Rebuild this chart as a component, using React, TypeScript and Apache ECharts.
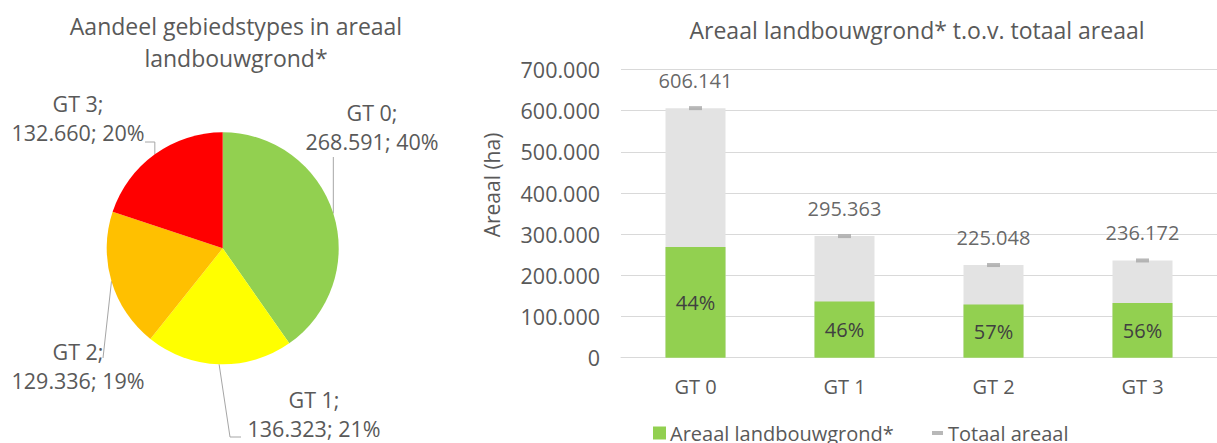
import React, { useEffect, useRef } from 'react';
import * as echarts from 'echarts';

// ---- Data ----
const pieNames = ['GT 0', 'GT 1', 'GT 2', 'GT 3'];
const pieValues = [268591, 136323, 129336, 132660];
const pieColors = ['#92D050', '#FFFF00', '#FFC000', '#FF0000'];

const barCategories = ['GT 0', 'GT 1', 'GT 2', 'GT 3'];
const landValues = [268591, 136323, 129336, 132660];
const totalValues = [606141, 295363, 225048, 236172];

const yMin = 0;
const yMax = 700000;
const yInterval = 100000;

const leftTitle = 'Aandeel gebiedstypes in areaal\nlandbouwgrond*';
const rightTitle = 'Areaal landbouwgrond* t.o.v. totaal areaal';
const yAxisTitle = 'Areaal (ha)';
const landName = 'Areaal landbouwgrond*';
const totalName = 'Totaal areaal';

// ---- Styling / layout ----
const FONT = 'Open Sans';
const TXT = '#595959';
const DARK = '#404040';
const FS = 20;

const pieLabelPos = [
  { x: 372, y: 127 },
  { x: 314, y: 414 },
  { x: 78, y: 366 },
  { x: 78, y: 118 },
];

function fmt(n: number): string {
  return Math.round(n).toString().replace(/\B(?=(\d{3})+(?!\d))/g, '.');
}

export default function App() {
  const ref = useRef<HTMLDivElement>(null);

  useEffect(() => {
    document.body.style.margin = '0';
    if (!ref.current) return;
    const chart = echarts.init(ref.current, null, { renderer: 'svg' });

    const option: any = {
      animation: false,
      backgroundColor: '#ffffff',
      textStyle: { fontFamily: FONT },
      title: [
        {
          text: leftTitle,
          left: 231,
          top: 5,
          textAlign: 'center',
          textStyle: { fontFamily: FONT, fontSize: 23, fontWeight: 'normal', color: TXT, lineHeight: 32 },
        },
        {
          text: rightTitle,
          left: 912,
          top: 9,
          textAlign: 'center',
          textStyle: { fontFamily: FONT, fontSize: 23, fontWeight: 'normal', color: TXT, lineHeight: 32 },
        },
      ],
      legend: [
        {
          data: [{ name: landName, icon: 'rect' }],
          left: 648,
          top: 416,
          itemWidth: 13,
          itemHeight: 13,
          itemGap: 10,
          textStyle: { fontFamily: FONT, fontSize: FS, color: TXT, lineHeight: 24, padding: [0, 0, 0, -1] },
          selectedMode: false,
        },
        {
          data: [{ name: totalName, icon: 'rect' }],
          left: 927,
          top: 416,
          itemWidth: 11,
          itemHeight: 4,
          textStyle: { fontFamily: FONT, fontSize: FS, color: TXT, lineHeight: 24 },
          selectedMode: false,
        },
      ],
      grid: { left: 621, top: 69.5, width: 608, height: 288.2 },
      xAxis: {
        type: 'category',
        data: barCategories,
        axisLine: { lineStyle: { color: '#d9d9d9', width: 1 } },
        axisTick: { show: false },
        axisLabel: { fontFamily: FONT, fontSize: FS, color: TXT, margin: 19 },
      },
      yAxis: {
        type: 'value',
        min: yMin,
        max: yMax,
        interval: yInterval,
        axisLine: { show: false },
        axisTick: { show: false },
        splitLine: { lineStyle: { color: '#d9d9d9', width: 1 } },
        axisLabel: { fontFamily: FONT, fontSize: 21.5, color: TXT, margin: 21, formatter: (v: number) => fmt(v) },
      },
      graphic: [
        {
          type: 'text',
          x: 492,
          y: 185,
          rotation: Math.PI / 2,
          style: { text: yAxisTitle, fontFamily: FONT, fontSize: 21, fill: TXT, align: 'center', verticalAlign: 'middle' },
        },
      ],
      series: [
        {
          type: 'pie',
          name: 'Aandeel',
          center: [222.7, 248.3],
          radius: 116,
          startAngle: 90,
          clockwise: true,
          percentPrecision: 0,
          data: pieNames.map((n, i) => ({ name: n, value: pieValues[i], itemStyle: { color: pieColors[i] } })),
          label: {
            show: true,
            position: 'outside',
            fontFamily: FONT,
            fontSize: 21.5,
            color: TXT,
            lineHeight: 29,
            align: 'center',
            width: 180,
            overflow: 'none',
            formatter: (p: any) => `${p.name};\n${fmt(p.value)}; ${p.percent}%`,
          },
          labelLine: { show: true, lineStyle: { color: '#a6a6a6', width: 1 } },
          labelLayout: (p: any) => {
            const i = p.dataIndex;
            const pos = pieLabelPos[i];
            const s = p.labelLinePoints && p.labelLinePoints[0] ? p.labelLinePoints[0] : [pos.x, pos.y];
            let pts: number[][];
            if (i === 0) pts = [s, [s[0], pos.y + 30]];
            else if (i === 1) pts = [s, [230, 437], [241, 437]];
            else if (i === 2) pts = [s, [103, 358]];
            else pts = [s, [s[0], 142], [145, 142]];
            return { x: pos.x, y: pos.y, align: 'center', verticalAlign: 'middle', labelLinePoints: pts };
          },
          emphasis: { disabled: true },
        },
        {
          type: 'bar',
          name: 'Totaal',
          data: totalValues,
          barWidth: 60,
          itemStyle: { color: '#e3e3e3' },
          emphasis: { disabled: true },
        },
        {
          type: 'bar',
          name: landName,
          data: landValues,
          barWidth: 60,
          barGap: '-100%',
          itemStyle: { color: '#92D050' },
          label: {
            show: true,
            position: 'inside',
            fontFamily: FONT,
            fontSize: FS,
            color: DARK,
            formatter: (p: any) => `${Math.round((landValues[p.dataIndex] / totalValues[p.dataIndex]) * 100)}%`,
          },
          emphasis: { disabled: true },
        },
        {
          type: 'scatter',
          name: totalName,
          data: totalValues,
          symbol: 'rect',
          symbolSize: [13, 4],
          itemStyle: { color: '#a6a6a6' },
          label: {
            show: true,
            position: 'top',
            distance: 16,
            fontFamily: FONT,
            fontSize: FS,
            color: DARK,
            formatter: (p: any) => fmt(p.value),
          },
          z: 5,
          emphasis: { disabled: true },
        },
      ],
    };

    chart.setOption(option);
    return () => chart.dispose();
  }, []);

  return <div ref={ref} style={{ width: 1217, height: 443 }} />;
}
